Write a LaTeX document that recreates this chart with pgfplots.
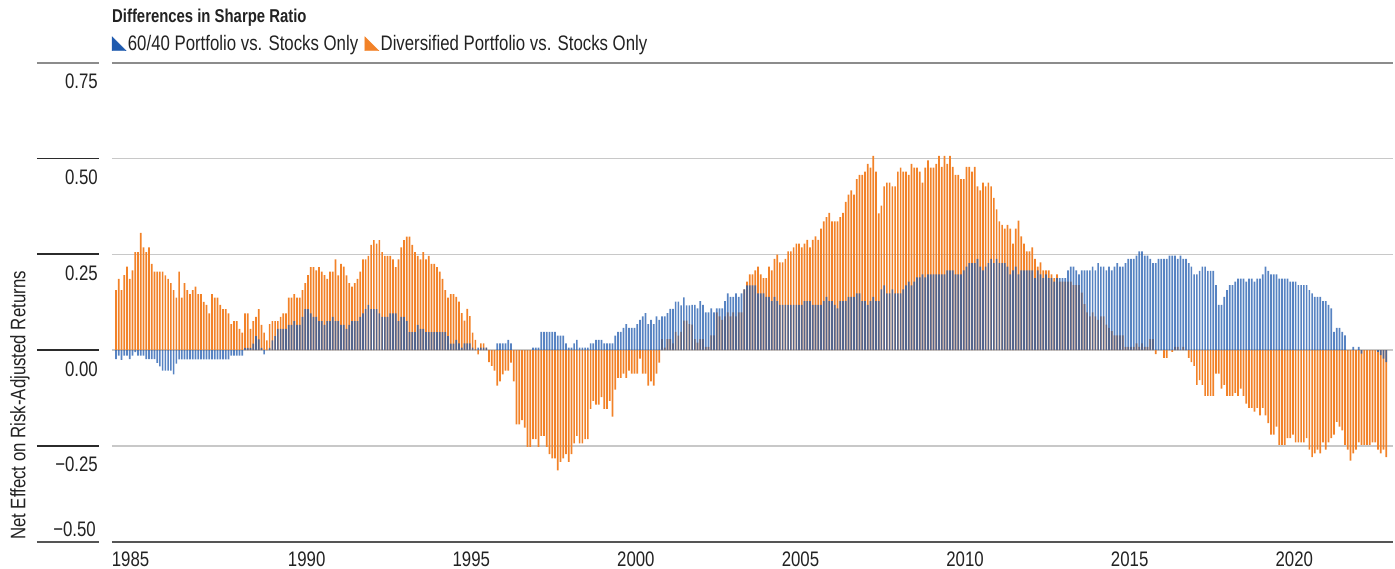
\documentclass[border=0pt]{standalone}
\usepackage{pgfplots}
\pgfplotsset{compat=1.18}
\usepackage{pgfplotstable}
\usepackage{fontspec}
\setmainfont{Liberation Sans}[FakeStretch=0.8]
\definecolor{blueC}{HTML}{1F5AAE}
\definecolor{orC}{HTML}{F28228}
\definecolor{gridC}{HTML}{C8C8C8}
\definecolor{topC}{HTML}{8C8C8C}
\definecolor{botC}{HTML}{555555}
\definecolor{segC}{HTML}{2B2B2B}
\definecolor{txtC}{HTML}{222222}

\pgfplotstableread{
O B
0.157 -0.023
0.186 -0.014
0.157 -0.025
0.196 -0.014
0.218 -0.014
0.186 -0.023
0.208 -0.014
0.256 -0.005
0.256 -0.014
0.306 -0.014
0.268 -0.014
0.256 -0.023
0.268 -0.023
0.225 -0.023
0.205 -0.023
0.205 -0.033
0.205 -0.042
0.205 -0.053
0.195 -0.053
0.186 -0.053
0.175 -0.053
0.157 -0.063
0.137 -0.035
0.205 -0.024
0.137 -0.024
0.175 -0.024
0.157 -0.024
0.146 -0.024
0.157 -0.024
0.166 -0.024
0.146 -0.024
0.146 -0.024
0.126 -0.024
0.118 -0.024
0.096 -0.024
0.146 -0.024
0.137 -0.024
0.137 -0.024
0.118 -0.024
0.107 -0.024
0.107 -0.024
0.096 -0.024
0.068 -0.014
0.076 -0.014
0.076 -0.014
0.056 -0.014
0.046 -0.014
0.096 0.006
0.096 0.006
0.056 0.006
0.076 0.017
0.087 0.037
0.107 0.028
0.066 0.006
0.046 -0.011
0.026 0.000
0.068 0.006
0.076 0.026
0.076 0.037
0.076 0.056
0.087 0.056
0.096 0.056
0.096 0.056
0.137 0.066
0.137 0.066
0.146 0.076
0.137 0.066
0.137 0.066
0.157 0.087
0.175 0.107
0.196 0.107
0.217 0.096
0.217 0.087
0.208 0.087
0.217 0.076
0.205 0.076
0.196 0.066
0.186 0.076
0.205 0.076
0.205 0.087
0.237 0.076
0.195 0.076
0.225 0.066
0.218 0.066
0.195 0.056
0.175 0.066
0.166 0.076
0.175 0.076
0.186 0.076
0.205 0.087
0.237 0.096
0.237 0.107
0.246 0.118
0.275 0.107
0.287 0.107
0.278 0.107
0.287 0.096
0.256 0.087
0.246 0.087
0.246 0.087
0.246 0.096
0.237 0.096
0.217 0.096
0.237 0.076
0.268 0.087
0.287 0.087
0.296 0.076
0.296 0.047
0.275 0.047
0.256 0.047
0.246 0.066
0.237 0.056
0.256 0.056
0.237 0.047
0.246 0.047
0.225 0.047
0.225 0.047
0.217 0.047
0.205 0.047
0.186 0.047
0.157 0.047
0.137 0.037
0.146 0.017
0.146 0.017
0.139 0.027
0.127 0.018
0.097 0.007
0.077 0.018
0.108 0.018
0.089 0.018
0.046 0.007
0.027 0.002
-0.011 0.007
0.018 0.007
0.018 0.007
0.007 0.007
-0.031 0
-0.041 0
-0.053 0
-0.092 0.018
-0.081 0.018
-0.063 0.018
-0.053 0.018
-0.053 0.027
-0.032 0.018
-0.081 0
-0.193 0
-0.193 0
-0.182 0
-0.202 0
-0.252 0
-0.252 0
-0.232 0.007
-0.232 0.007
-0.252 0.007
-0.223 0.048
-0.223 0.048
-0.252 0.048
-0.271 0.048
-0.282 0.048
-0.282 0.048
-0.313 0.038
-0.291 0.038
-0.282 0.038
-0.271 0.018
-0.291 0.007
-0.271 0.007
-0.243 0.018
-0.223 0.027
-0.243 0.007
-0.243 0.007
-0.232 0.007
-0.232 0.007
-0.153 0.018
-0.132 0.018
-0.142 0.027
-0.142 0.027
-0.122 0.027
-0.153 0.018
-0.153 0.018
-0.132 0.018
-0.173 0.018
-0.103 0.038
-0.072 0.048
-0.072 0.048
-0.061 0.058
-0.072 0.068
-0.053 0.058
-0.061 0.058
-0.061 0.058
-0.061 0.068
-0.022 0.079
-0.061 0.088
-0.061 0.097
-0.092 0.068
-0.081 0.079
-0.092 0.068
-0.061 0.088
-0.032 0.079
0.029 0.088
0.007 0.088
0.029 0.097
0.029 0.108
0.018 0.108
0.048 0.127
0.038 0.127
0.048 0.117
0.077 0.138
0.077 0.117
0.068 0.117
0.067 0.118
0.029 0.118
0.020 0.109
0.029 0.128
0.029 0.118
0.009 0.099
0.009 0.099
0.039 0.109
0.039 0.099
0.099 0.109
0.088 0.109
0.079 0.109
0.088 0.128
0.099 0.148
0.088 0.139
0.099 0.139
0.088 0.148
0.099 0.139
0.099 0.148
0.159 0.159
0.179 0.169
0.198 0.169
0.198 0.169
0.208 0.169
0.218 0.148
0.198 0.148
0.188 0.148
0.188 0.139
0.218 0.139
0.208 0.128
0.238 0.139
0.249 0.128
0.229 0.118
0.229 0.118
0.238 0.118
0.258 0.118
0.258 0.118
0.268 0.118
0.278 0.118
0.278 0.118
0.268 0.118
0.278 0.128
0.288 0.128
0.268 0.128
0.288 0.118
0.297 0.118
0.288 0.118
0.317 0.118
0.336 0.128
0.347 0.139
0.358 0.128
0.336 0.128
0.336 0.118
0.336 0.109
0.347 0.128
0.358 0.128
0.387 0.128
0.406 0.139
0.417 0.139
0.406 0.139
0.446 0.148
0.457 0.148
0.457 0.128
0.466 0.128
0.486 0.118
0.476 0.128
0.507 0.139
0.466 0.128
0.357 0.128
0.377 0.159
0.427 0.169
0.437 0.148
0.437 0.148
0.427 0.159
0.427 0.148
0.466 0.148
0.476 0.148
0.466 0.159
0.466 0.169
0.457 0.179
0.486 0.169
0.476 0.179
0.476 0.190
0.466 0.190
0.437 0.198
0.476 0.190
0.495 0.198
0.476 0.198
0.476 0.198
0.486 0.198
0.507 0.198
0.478 0.198
0.507 0.198
0.486 0.208
0.507 0.208
0.478 0.208
0.457 0.198
0.457 0.198
0.446 0.198
0.446 0.208
0.478 0.218
0.478 0.227
0.466 0.227
0.478 0.227
0.427 0.238
0.417 0.218
0.437 0.208
0.427 0.218
0.437 0.227
0.427 0.238
0.397 0.227
0.367 0.238
0.336 0.227
0.327 0.227
0.317 0.227
0.327 0.218
0.317 0.198
0.278 0.208
0.317 0.218
0.338 0.198
0.297 0.208
0.278 0.208
0.258 0.208
0.258 0.208
0.268 0.208
0.238 0.188
0.218 0.208
0.229 0.198
0.208 0.188
0.208 0.198
0.208 0.188
0.198 0.188
0.188 0.179
0.198 0.188
0.179 0.188
0.179 0.188
0.179 0.188
0.179 0.208
0.179 0.218
0.170 0.218
0.170 0.208
0.170 0.198
0.150 0.208
0.120 0.208
0.099 0.208
0.088 0.208
0.099 0.218
0.088 0.208
0.079 0.227
0.088 0.218
0.088 0.218
0.067 0.208
0.058 0.218
0.050 0.208
0.039 0.218
0.039 0.227
0.039 0.218
0.039 0.218
0.009 0.227
0.009 0.238
0.009 0.238
0.009 0.238
0.018 0.247
0.009 0.258
0.018 0.258
0.009 0.247
0.009 0.247
0.029 0.238
0.029 0.227
-0.010 0.227
0 0.238
0 0.238
-0.020 0.238
-0.020 0.238
0 0.247
-0.004 0.247
0.009 0.247
0.009 0.238
0 0.247
0.009 0.238
0 0.238
-0.020 0.227
-0.031 0.218
-0.041 0.198
-0.090 0.198
-0.078 0.207
-0.090 0.218
-0.119 0.218
-0.119 0.207
-0.119 0.207
-0.119 0.207
-0.061 0.170
-0.061 0.118
-0.100 0.118
-0.090 0.139
-0.119 0.157
-0.119 0.170
-0.119 0.170
-0.111 0.179
-0.119 0.187
-0.100 0.187
-0.119 0.187
-0.139 0.179
-0.150 0.187
-0.150 0.187
-0.160 0.179
-0.150 0.187
-0.170 0.187
-0.150 0.198
-0.170 0.218
-0.190 0.207
-0.220 0.198
-0.220 0.198
-0.199 0.198
-0.247 0.187
-0.247 0.187
-0.247 0.187
-0.229 0.187
-0.229 0.179
-0.220 0.179
-0.240 0.179
-0.240 0.170
-0.240 0.170
-0.240 0.170
-0.229 0.170
-0.259 0.157
-0.279 0.148
-0.269 0.139
-0.259 0.139
-0.269 0.139
-0.240 0.128
-0.259 0.128
-0.240 0.118
-0.229 0.109
-0.220 0.048
-0.187 0.058
-0.199 0.058
-0.209 0.048
-0.247 0.039
-0.259 0
-0.288 0
-0.269 0.009
-0.259 0
-0.240 0.009
-0.247 -0.009
-0.247 0
-0.247 0
-0.247 0
-0.240 0
-0.240 0
-0.259 -0.004
-0.269 -0.013
-0.259 -0.022
-0.279 -0.031
}\data

\begin{document}
\begin{tikzpicture}[font=\fontsize{21bp}{25bp}\selectfont, text=txtC]
\useasboundingbox (-112bp,-27bp) rectangle (1283bp,542bp);
\begin{axis}[
  at={(0,0)}, anchor=south west,
  scale only axis, width=1281bp, height=479.4bp,
  xmin=-1.46, xmax=465.5, ymin=-0.5, ymax=0.75,
  clip=false,
  axis line style={draw=none},
  tick style={draw=none},
  ytick={-0.25,0,0.25,0.5,0.75},
  yticklabels={−0.25,0.00,0.25,0.50,0.75},
  yticklabel style={anchor=north east, inner sep=0pt, xshift=-14bp, yshift=-11bp},
  extra y ticks={-0.5},
  extra y tick labels={−0.50},
  extra y tick style={yticklabel style={anchor=south east, inner sep=0pt, xshift=-2bp, yshift=16bp}},
  xtick={5.3,69.5,129.5,189.5,249.5,309.5,369.5,429.5},
  xticklabels={1985,1990,1995,2000,2005,2010,2015,2020},
  xticklabel style={anchor=north, inner sep=0pt, yshift=-10bp},
  ymajorgrids, grid style={color=gridC, line width=1.5bp},
  legend style={at={(rel axis cs:0,1)}, anchor=south west, draw=none, fill=none,
    inner sep=0pt, outer sep=0pt, yshift=9bp, legend columns=2,
    nodes={inner sep=1.5bp, text=txtC},
    /tikz/every even column/.append style={column sep=5bp}},
  legend cell align=left,
]
\addlegendimage{legend image code/.code={\fill[blueC] (0bp,-7bp) -- (0bp,7bp) -- (14bp,-7bp) -- cycle;}}
\addlegendentry{60/40 Portfolio vs. Stocks Only}
\addlegendimage{legend image code/.code={\fill[orC] (0bp,-7bp) -- (0bp,7bp) -- (14bp,-7bp) -- cycle;}}
\addlegendentry{Diversified Portfolio vs. Stocks Only}
\addplot[forget plot, ybar, bar width=1.7bp, bar shift=0pt, fill=orC, draw=none]
  table[x expr=\coordindex, y=O] {\data};
\addplot[forget plot, ybar, bar width=1.7bp, bar shift=0pt, fill=blueC, fill opacity=0.75, draw=none]
  table[x expr=\coordindex, y=B] {\data};
\pgfplotsinvokeforeach{-0.25,0,0.25,0.5}{
  \draw[segC, line width=1.8bp] (axis cs:-28.8,#1) -- (axis cs:-6.2,#1);
}
\draw[topC, line width=2bp] (axis cs:-28.8,0.75) -- (axis cs:-6.2,0.75);
\draw[topC, line width=2bp] (axis cs:-1.46,0.75) -- (axis cs:465.5,0.75);
\draw[botC, line width=1.8bp] (axis cs:-28.8,-0.5) -- (axis cs:-6.2,-0.5);
\draw[botC, line width=1.8bp] (axis cs:-1.46,-0.5) -- (axis cs:465.5,-0.5);
\end{axis}
\node[anchor=base west, inner sep=0pt, font=\fontsize{18.6bp}{22bp}\selectfont\bfseries] at (0bp,519bp) {Differences in Sharpe Ratio};
\node[rotate=90, anchor=north west, inner sep=0pt] at (-102bp,2bp) {Net Effect on Risk-Adjusted Returns};
\end{tikzpicture}
\end{document}
